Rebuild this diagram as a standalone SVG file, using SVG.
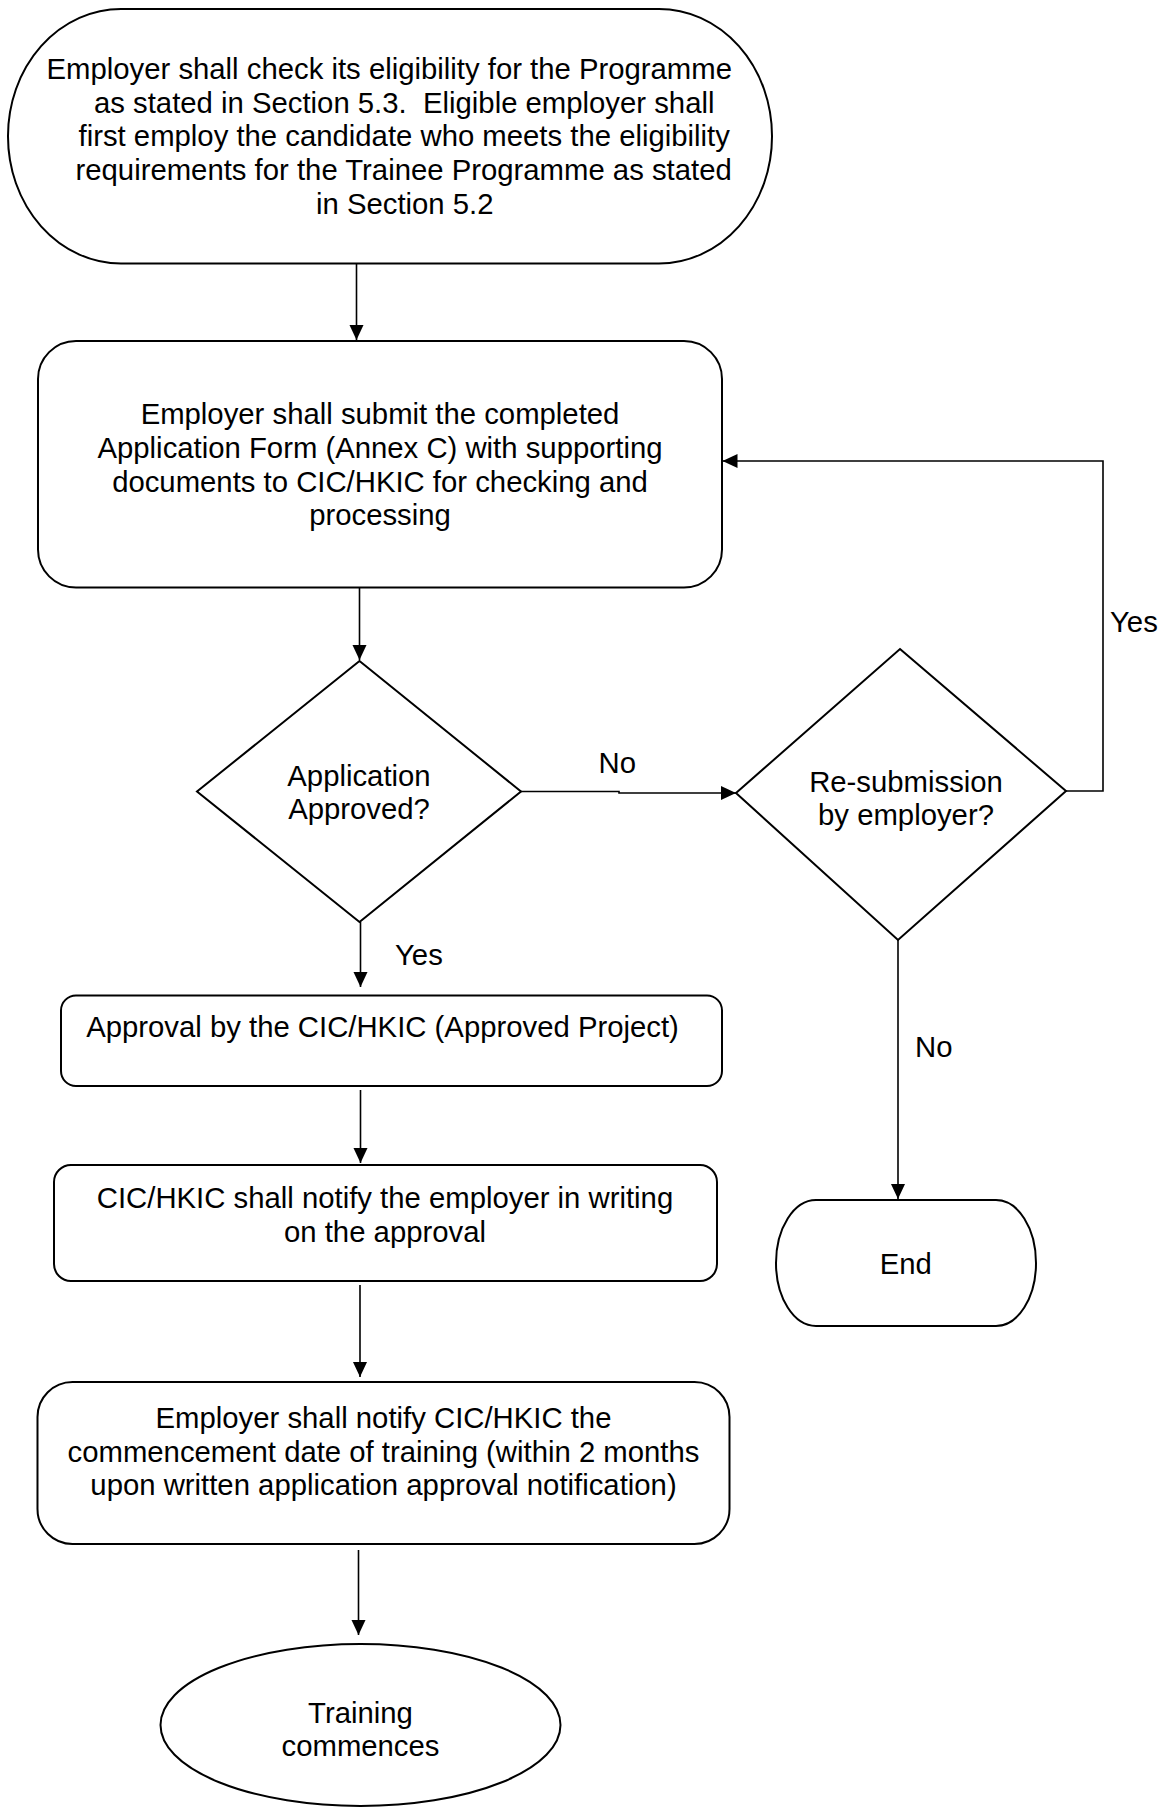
<svg xmlns="http://www.w3.org/2000/svg" width="1165" height="1807" viewBox="0 0 1165 1807">
<style>
.shape{fill:#fff;stroke:#000;stroke-width:2}
.t{font-family:"Liberation Sans",Arial,sans-serif;font-size:29.3px;fill:#000}
.c{text-anchor:middle}
.conn{fill:none;stroke:#000;stroke-width:1.6}
</style>
<defs>
<marker id="arr" markerUnits="userSpaceOnUse" markerWidth="16" markerHeight="15" refX="15" refY="7" orient="auto">
<path d="M0,0 L15,7 L0,14 Z" fill="#000"/>
</marker>
</defs>
<rect width="1165" height="1807" fill="#fff"/>
<g id="connectors">
<path class="conn" d="M356.5,264 V340" marker-end="url(#arr)"/>
<path class="conn" d="M359.5,588 V660" marker-end="url(#arr)"/>
<path class="conn" d="M360.5,922 V987" marker-end="url(#arr)"/>
<path class="conn" d="M360.5,1090 V1163" marker-end="url(#arr)"/>
<path class="conn" d="M360,1285 V1377" marker-end="url(#arr)"/>
<path class="conn" d="M358.5,1550 V1635" marker-end="url(#arr)"/>
<path class="conn" d="M521,791.5 H619 V793 H736" marker-end="url(#arr)"/>
<path class="conn" d="M1066,791 H1103 V461 H722.5" marker-end="url(#arr)"/>
<path class="conn" d="M898,940 V1199" marker-end="url(#arr)"/>
<text class="t" x="598.5" y="773">No</text>
<text class="t" x="1110" y="632">Yes</text>
<text class="t" x="395" y="965">Yes</text>
<text class="t" x="915" y="1057">No</text>
</g>
<g id="start">
<rect class="shape" x="8" y="9" width="764" height="254.5" rx="113" ry="127"/>
<text class="t" x="46.5" y="79">Employer shall check its eligibility for the Programme</text>
<text class="t" x="94" y="112.7" xml:space="preserve">as stated in Section 5.3.  Eligible employer shall</text>
<text class="t" x="78.5" y="146.4">first employ the candidate who meets the eligibility</text>
<text class="t" x="75.5" y="180">requirements for the Trainee Programme as stated</text>
<text class="t" x="316" y="213.7">in Section 5.2</text>
</g>
<g id="submit">
<rect class="shape" x="38" y="341" width="684" height="246.5" rx="38" ry="38"/>
<text class="t c" x="380" y="423.5">Employer shall submit the completed</text>
<text class="t c" x="380" y="457.5">Application Form (Annex C) with supporting</text>
<text class="t c" x="380" y="491.5">documents to CIC/HKIC for checking and</text>
<text class="t c" x="380" y="525">processing</text>
</g>
<g id="approved">
<polygon class="shape" points="359.5,661 521,791.5 359.5,922 197,791.5"/>
<text class="t c" x="359" y="785.5">Application</text>
<text class="t c" x="359" y="819">Approved?</text>
</g>
<g id="resubmit">
<polygon class="shape" points="900,649 1066,791 898,940 736,793"/>
<text class="t c" x="906" y="791.5">Re-submission</text>
<text class="t c" x="906" y="825">by employer?</text>
</g>
<g id="approval">
<rect class="shape" x="61" y="995.5" width="661" height="90.5" rx="15" ry="15"/>
<text class="t c" x="382.5" y="1037">Approval by the CIC/HKIC (Approved Project)</text>
</g>
<g id="notify">
<rect class="shape" x="54" y="1165" width="663" height="116" rx="17" ry="17"/>
<text class="t c" x="385" y="1208">CIC/HKIC shall notify the employer in writing</text>
<text class="t c" x="385" y="1241.7">on the approval</text>
</g>
<g id="commencement">
<rect class="shape" x="37.5" y="1382" width="692" height="162" rx="35" ry="35"/>
<text class="t c" x="383.5" y="1428">Employer shall notify CIC/HKIC the</text>
<text class="t c" x="383.5" y="1461.5">commencement date of training (within 2 months</text>
<text class="t c" x="383.5" y="1495">upon written application approval notification)</text>
</g>
<g id="end">
<rect class="shape" x="776" y="1200" width="260" height="126" rx="40" ry="63"/>
<text class="t c" x="905.7" y="1274">End</text>
</g>
<g id="training">
<ellipse class="shape" cx="360.5" cy="1725" rx="200" ry="81"/>
<text class="t c" x="360.5" y="1722.5">Training</text>
<text class="t c" x="360.5" y="1756">commences</text>
</g>
</svg>
